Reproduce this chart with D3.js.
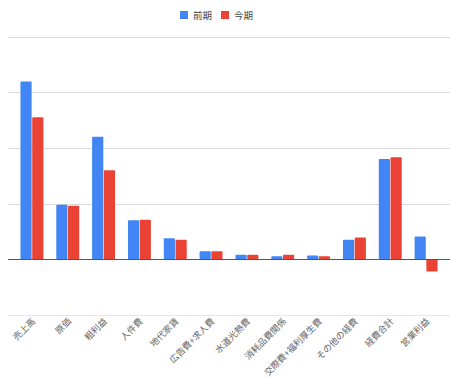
<!DOCTYPE html>
<html><head><meta charset="utf-8">
<script src="https://cdn.jsdelivr.net/npm/d3@7"></script>
<style>body{margin:0;background:#fff;}svg{display:block;font-family:"Noto Sans CJK JP","Noto Sans",sans-serif;}</style>
</head><body>
<svg id="c" width="450" height="380"></svg>
<script>
const categories = ["売上高","原価","粗利益","人件費","地代家賃","広告費+求人費","水道光熱費","消耗品費関係","交際費+福利厚生費","その他の経費","経費合計","営業利益"];
const seriesNames = ["前期","今期"];
const prevValues = [3.19,0.98,2.20,0.70,0.38,0.145,0.08,0.055,0.067,0.35,1.80,0.41];
const currValues = [2.55,0.96,1.60,0.71,0.35,0.145,0.08,0.08,0.055,0.39,1.83,-0.22];
const yTicks = [-1,0,1,2,3,4];
const colors = ["#4285F4","#EA4335"];

const svg = d3.select("#c");
const y = d3.scaleLinear().domain([-1,4]).range([315,36.5]);
const x = d3.scaleBand().domain(categories).range([14,444]).paddingInner(0.36).paddingOuter(0.18);
const x1 = d3.scaleBand().domain(seriesNames).range([0,x.bandwidth()]).paddingInner(0.05);

// gridlines
svg.append("g").selectAll("line").data(yTicks.filter(d=>d!==0)).join("line")
  .attr("x1",8).attr("x2",450)
  .attr("y1",d=>Math.round(y(d))+0.5).attr("y2",d=>Math.round(y(d))+0.5)
  .attr("stroke",d=>d===-1?"#e6e6e6":"#dadada").attr("stroke-width",1);

const data = categories.map((c,i)=>({c, vals:[prevValues[i],currValues[i]]}));
const g = svg.append("g").selectAll("g").data(data).join("g")
  .attr("transform",d=>`translate(${x(d.c)},0)`);
g.selectAll("rect").data(d=>d.vals.map((v,j)=>({v,j}))).join("rect")
  .attr("x",d=>x1(seriesNames[d.j]))
  .attr("width",x1.bandwidth())
  .attr("y",d=>y(Math.max(0,d.v)))
  .attr("height",d=>Math.abs(y(d.v)-y(0)))
  .attr("fill",d=>colors[d.j])
  .attr("rx",1);

// zero line
svg.append("line").attr("x1",8).attr("x2",450)
  .attr("y1",Math.round(y(0))+0.5).attr("y2",Math.round(y(0))+0.5)
  .attr("stroke","#555").attr("stroke-width",1);

// x labels
svg.append("g").selectAll("text").data(categories).join("text")
  .attr("transform",d=>`translate(${x(d)+x.bandwidth()/2+4},322) rotate(-45)`)
  .attr("text-anchor","end").attr("font-size",9).attr("fill","#666")
  .text(d=>d);

// legend
const lg = svg.append("g");
const lx = [180,221];
seriesNames.forEach((s,i)=>{
  lg.append("rect").attr("x",lx[i]).attr("y",11).attr("width",8).attr("height",8).attr("fill",colors[i]);
  lg.append("text").attr("x",lx[i]+13).attr("y",18.5).attr("font-size",9.5).attr("fill","#444").text(s);
});
</script>
</body></html>
